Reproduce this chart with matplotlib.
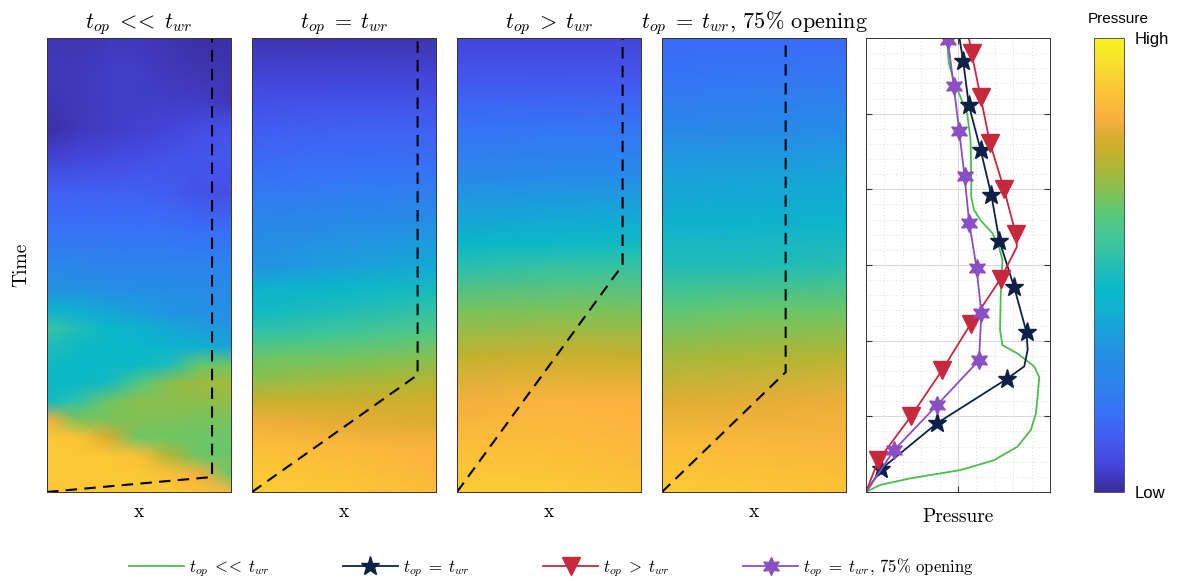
import numpy as np
import matplotlib
matplotlib.use("Agg")
import matplotlib.pyplot as plt
from matplotlib.colors import LinearSegmentedColormap
from matplotlib.ticker import MultipleLocator

plt.rcParams['mathtext.fontset'] = 'cm'
plt.rcParams['font.family'] = ['cmr10', 'DejaVu Serif']
plt.rcParams['axes.unicode_minus'] = False

# colour scale (position, colour)
cbar_pos = [0.0, 0.055, 0.107, 0.165, 0.24, 0.31, 0.33, 0.40, 0.447, 0.49, 0.535,
            0.579, 0.623, 0.667, 0.711, 0.755, 0.784, 0.828, 0.872, 0.93, 1.0]
cbar_col = ['#3a2c9c', '#4444d8', '#4458f0', '#3870f8', '#2c84ec', '#2490e4',
            '#2098e0', '#10b0d0', '#08b8c8', '#20bcb8', '#38c4a0', '#48c890',
            '#60c870', '#88c050', '#a8b838', '#c8b02c', '#d8ac30', '#fbb040',
            '#fcc038', '#f8d830', '#f8f420']

titles = [r'$t_{op}\;<\!\!<\;t_{wr}$', r'$t_{op}\;=\;t_{wr}$', r'$t_{op}\;>\;t_{wr}$',
          r'$t_{op}\;=\;t_{wr}$, 75% opening']

# ---- pressure fields (x across, time up), values 0 = low, 1 = high ----
x1 = [0, 1/6, 2/6, 3/6, 4/6, 5/6, 1]
t1 = [0, .04, .08, .12, .16, .20, .24, .28, .32, .36, .40, .45, .50, .58, .66,
      .74, .80, .86, .93, 1.0]
p1 = [[.89, .89, .89, .89, .89, .87, .84],
      [.89, .89, .89, .89, .87, .82, .64],
      [.89, .89, .89, .87, .72, .635, .63],
      [.89, .88, .785, .64, .64, .635, .635],
      [.82, .655, .655, .66, .655, .65, .65],
      [.46, .52, .64, .67, .67, .67, .68],
      [.45, .45, .47, .60, .67, .70, .70],
      [.46, .45, .45, .45, .49, .63, .64],
      [.49, .46, .45, .44, .42, .40, .36],
      [.54, .49, .45, .41, .38, .35, .33],
      [.42, .40, .37, .34, .32, .31, .30],
      [.32, .31, .30, .29, .28, .28, .28],
      [.25, .25, .24, .24, .24, .24, .24],
      [.17, .17, .17, .17, .17, .16, .16],
      [.13, .13, .13, .13, .12, .09, .08],
      [.05, .06, .07, .08, .09, .10, .11],
      [.01, .03, .04, .05, .06, .08, .09],
      [.02, .03, .04, .04, .04, .04, .03],
      [.03, .03, .04, .04, .03, .02, .02],
      [.02, .02, .03, .03, .02, .01, .01]]

x2 = [0, 0.5, 1]
t2 = [0, .05, .10, .15, .20, .25, .30, .35, .40, .45, .50, .60, .70, .80, .90, 1.0]
p2 = [[.90, .89, .86],
      [.89, .872, .84],
      [.865, .85, .83],
      [.818, .80, .79],
      [.76, .76, .77],
      [.67, .70, .72],
      [.63, .64, .66],
      [.52, .56, .60],
      [.46, .49, .52],
      [.41, .44, .47],
      [.32, .35, .38],
      [.25, .27, .29],
      [.17, .18, .19],
      [.12, .13, .13],
      [.07, .07, .07],
      [.02, .02, .02]]

x3 = [0, 0.5, 1]
t3 = [0, .10, .20, .30, .40, .50, .55, .60, .70, .80, .90, 1.0]
p3 = [[.90, .90, .88],
      [.865, .86, .85],
      [.818, .838, .83],
      [.745, .76, .75],
      [.645, .655, .65],
      [.50, .52, .53],
      [.44, .45, .46],
      [.37, .38, .39],
      [.26, .27, .28],
      [.18, .19, .19],
      [.11, .11, .11],
      [.06, .06, .06]]

x4 = [0, 0.5, 1]
t4 = [0, .10, .20, .30, .40, .50, .60, .70, .80, .90, 1.0]
p4 = [[.90, .89, .875],
      [.86, .85, .84],
      [.79, .80, .81],
      [.70, .715, .73],
      [.61, .63, .635],
      [.49, .49, .50],
      [.40, .41, .42],
      [.35, .36, .37],
      [.26, .27, .28],
      [.19, .20, .21],
      [.15, .15, .15]]

# dashed boundary (x, t) per panel
bnd_x = [[0, 0.897, 0.897], [0, 0.90, 0.90], [0, 0.90, 0.90], [0, 0.672, 0.672]]
bnd_t = [[0, 0.033, 1.0], [0, 0.258, 1.0], [0, 0.50, 1.0], [0, 0.264, 1.0]]

# ---- pressure profiles (pressure, time) ----
green_p = [0, 0.153, 0.481, 1.027, 1.391, 1.647, 1.792, 1.847, 1.865, 1.883, 1.828,
           1.647, 1.483, 1.457, 1.464, 1.483, 1.446, 1.374, 1.246, 1.173, 1.144,
           1.144, 1.137, 1.100, 1.027, 0.954, 0.900, 0.889, 0.889]
green_t = [0, 0.093, 0.18, 0.29, 0.42, 0.60, 0.82, 1.04, 1.26, 1.52, 1.66, 1.83,
           1.94, 2.14, 2.58, 3.07, 3.24, 3.42, 3.59, 3.73, 3.90, 4.12, 4.65, 5.00,
           5.22, 5.44, 5.67, 5.84, 6.0]

navy_p = [0, 0.161, 0.773, 1.538, 1.72, 1.757, 1.745, 1.610, 1.450, 1.363, 1.246,
          1.118, 1.057, 1.016]
navy_t = [0, 0.30, 0.91, 1.50, 1.66, 1.88, 2.11, 2.71, 3.32, 3.92, 4.52, 5.11,
          5.69, 6.0]
navy_mk = [1, 2, 3, 6, 7, 8, 9, 10, 11, 12]

red_p = [0, 0.134, 0.489, 0.827, 1.137, 1.464, 1.640, 1.628, 1.501, 1.348, 1.246,
         1.148, 1.118]
red_t = [0, 0.42, 1.00, 1.61, 2.22, 2.82, 3.24, 3.41, 4.00, 4.61, 5.22, 5.80, 6.0]
red_mk = [1, 2, 3, 4, 5, 7, 8, 9, 10, 11]

purple_p = [0, 0.306, 0.773, 1.228, 1.254, 1.202, 1.122, 1.071, 1.013, 0.954, 0.889]
purple_t = [0, 0.555, 1.15, 1.74, 2.36, 2.96, 3.56, 4.17, 4.77, 5.36, 5.97]
purple_mk = [1, 2, 3, 4, 5, 6, 7, 8, 9, 10]

parula = LinearSegmentedColormap.from_list('parula_like', list(zip(cbar_pos, cbar_col)))

fig = plt.figure(figsize=(11.78, 5.81), dpi=100)
W, H = 1178, 581
lefts = [47, 252, 457, 662, 866]
bot, hgt, wid = (581 - 492) / H, 454 / H, 184 / W

fields = [(x1, t1, p1), (x2, t2, p2), (x3, t3, p3), (x4, t4, p4)]
for i, (xs, ts, ps) in enumerate(fields):
    ax = fig.add_axes([lefts[i] / W, bot, wid, hgt])
    X, T = np.meshgrid(xs, ts)
    mesh = ax.pcolormesh(X, T, np.array(ps), cmap=parula, vmin=0, vmax=1,
                         shading='gouraud')
    ax.plot(bnd_x[i], bnd_t[i], color='k', lw=1.5, dashes=(5.5, 3.5))
    ax.set_xlim(0, 1)
    ax.set_ylim(0, 1)
    ax.set_xticks([])
    ax.set_yticks([])
    for s in ax.spines.values():
        s.set_color('#333333')
        s.set_linewidth(0.7)
    ax.set_title(titles[i], fontsize=16, pad=7)
    ax.set_xlabel('x', fontsize=14, labelpad=8)
    if i == 0:
        ax.set_ylabel('Time', fontsize=14, labelpad=12)

# pressure profile panel
ax5 = fig.add_axes([lefts[4] / W, bot, wid, hgt])
ax5.plot(green_p, green_t, color='#4cbd4c', lw=1.3, label=r'$t_{op}\;<\!\!<\;t_{wr}$')
ax5.plot(navy_p, navy_t, color='#0d2148', lw=1.3, marker='*', markersize=14,
         markevery=navy_mk, label=r'$t_{op}\;=\;t_{wr}$')
ax5.plot(red_p, red_t, color='#c8283e', lw=1.3, marker='v', markersize=13,
         markevery=red_mk, label=r'$t_{op}\;>\;t_{wr}$')
ax5.plot(purple_p, purple_t, color='#8b4fc4', lw=1.3, marker=(6, 1, 0), markersize=13,
         markevery=purple_mk, label=r'$t_{op}\;=\;t_{wr}$, 75% opening')
ax5.set_xlim(0, 2)
ax5.set_ylim(0, 6)
ax5.set_xticks([1])
ax5.set_yticks([1, 2, 3, 4, 5])
ax5.xaxis.set_minor_locator(MultipleLocator(0.2))
ax5.yaxis.set_minor_locator(MultipleLocator(0.2))
ax5.set_xticklabels([])
ax5.set_yticklabels([])
ax5.tick_params(which='major', direction='in', length=4, color='#333333',
                top=True, right=True)
ax5.tick_params(which='minor', length=0)
ax5.grid(which='major', color='#d8d8d8', lw=0.7)
ax5.grid(which='minor', color='#cfcfcf', lw=0.6, linestyle=(0, (1, 3)))
ax5.set_axisbelow(True)
for s in ax5.spines.values():
    s.set_color('#333333')
    s.set_linewidth(0.7)
ax5.set_xlabel('Pressure', fontsize=14, labelpad=8)

# colour bar
cax = fig.add_axes([1094 / W, bot, 30 / W, hgt])
cb = fig.colorbar(mesh, cax=cax, ticks=[0, 1])
cb.ax.set_yticklabels(['Low', 'High'], family='Liberation Sans', fontsize=12)
cb.ax.tick_params(length=0, pad=8)
cb.outline.set_edgecolor('#555555')
cb.outline.set_linewidth(0.7)
fig.text(1118 / W, 1 - 19 / H, 'Pressure', family='Liberation Sans', fontsize=11,
         ha='center', va='center')

handles, labels = ax5.get_legend_handles_labels()
fig.legend(handles, labels, loc='lower center', bbox_to_anchor=(0.468, -0.022),
           ncol=4, frameon=False, fontsize=12, handlelength=3.3, columnspacing=4.4,
           handletextpad=0.3)

fig.savefig('out.png', dpi=100)
